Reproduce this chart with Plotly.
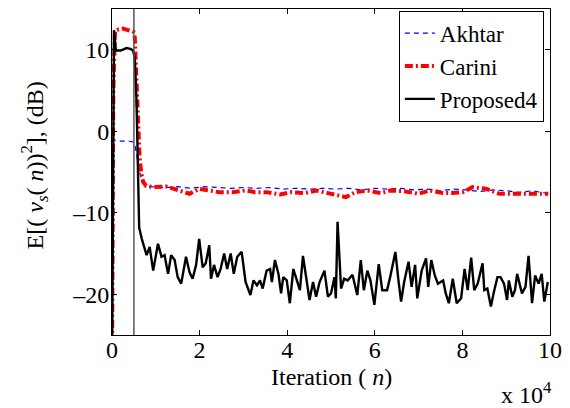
import plotly.graph_objects as go

# Iteration indices and mean-square error (dB) for each algorithm
akhtar_n = [0, 300, 700, 2000, 3500, 4800, 5200, 5600, 6300, 7000, 8000,
            9000, 12000, 15000, 18000, 21000, 24000, 27000, 30000, 33000, 36000,
            39000, 42000, 45000, 48000, 51000, 54000, 57000, 60000, 63000, 66000,
            69000, 72000, 75000, 78000, 81000, 84000, 87000, 90000, 93000, 96000,
            99000, 100000]
akhtar_db = [-30, -1.0, -1.1, -1.2, -1.2, -1.3, -1.6, -3.0, -5.0, -6.3, -6.7,
             -6.8, -6.9, -6.8, -7.0, -6.8, -6.9, -7.0, -6.9, -7.0, -6.9,
             -7.1, -7.0, -7.1, -7.0, -7.1, -7.0, -7.2, -7.0, -7.1, -7.0,
             -7.2, -7.1, -7.3, -7.1, -7.2, -7.4, -7.2, -7.3, -7.5, -7.3,
             -7.6, -7.5]

carini_n = [0, 300, 700, 1500, 2500, 3500, 4500, 4900, 5200, 5600, 5950, 6300,
            6700, 7100, 7800, 9400, 12400, 15400, 17700, 19900, 21400, 24400,
            27400, 30500, 32700, 35300, 38400, 41000, 44000, 46600, 49300, 53400,
            55600, 58300, 61300, 63500, 66600, 69900, 72600, 75600, 77500, 80100,
            82300, 85400, 88400, 91400, 94400, 97000, 99600]
carini_db = [-30, 5.0, 12.3, 12.5, 12.6, 12.4, 12.3, 12.2, 11.5, 5.8, -0.3, -3.2,
             -5.2, -6.2, -6.7, -6.86, -6.78, -7.27, -7.67, -7.06, -7.18, -7.47,
             -7.47, -7.27, -7.47, -7.47, -7.76, -7.47, -7.59, -7.27, -7.59, -8.08,
             -7.47, -7.27, -7.59, -7.27, -7.35, -7.67, -7.27, -7.59, -7.59, -7.47,
             -6.86, -7.06, -7.67, -7.67, -7.67, -7.76, -7.67]

proposed_n = [0, 450, 900, 2000, 3300, 4200, 4800, 5200, 5600, 5950,
              6200, 6800, 7900, 8600, 9400, 10500, 11300, 12000, 12800, 13500,
              14300, 15000, 15800, 16900, 17700, 18400, 19200, 19900, 20700, 21400,
              22200, 22600, 23300, 24100, 24800, 25600, 26300, 27100, 27800, 28600,
              29600, 30500, 31600, 32300, 33100, 33800, 34400, 35300, 36100, 36500,
              37200, 38000, 38600, 39100, 39900, 40600, 41400, 42100, 42900, 43600,
              44400, 45100, 45900, 46600, 47400, 48500, 49300, 50000, 50800, 51100,
              51500, 52300, 53000, 53800, 54900, 56000, 56800, 57500, 58300, 59000,
              59900, 60900, 61700, 62800, 63500, 64700, 65400, 66000, 66700, 67700,
              68400, 69200, 69700, 70700, 71700, 72200, 72900, 73700, 74400, 75600,
              76200, 76900, 77800, 78700, 79700, 80500, 81200, 82000, 82700, 83500,
              84600, 85000, 85700, 86500, 87200, 88000, 88700, 89500, 90200, 90600,
              91400, 92000, 92500, 93600, 94400, 95100, 95900, 96600, 97400, 98100,
              98700, 99500]
proposed_db = [-30, 12.4, 9.9, 9.9, 10.2, 10.1, 9.9, 9.0, 3.8, -4.4,
               -11.8, -13.2, -15.2, -14.2, -17.1, -13.8, -15.4, -15.2, -17.5, -15.2,
               -15.8, -17.9, -18.7, -15.4, -17.3, -18.1, -16.4, -13.2, -16.7, -16.2,
               -14.0, -18.1, -16.4, -17.9, -16.9, -15.0, -16.9, -15.0, -17.5, -15.4,
               -14.8, -18.5, -20.1, -18.3, -18.9, -18.3, -19.3, -17.1, -16.9, -18.5,
               -15.8, -17.5, -19.9, -17.9, -18.3, -21.1, -16.9, -18.1, -19.5, -15.3,
               -18.1, -20.7, -18.5, -20.3, -18.5, -17.1, -20.3, -19.9, -17.9, -20.5,
               -11.1, -19.3, -18.1, -18.3, -17.6, -20.1, -15.8, -19.5, -17.1, -18.3,
               -21.3, -16.3, -19.5, -19.5, -17.9, -14.8, -18.3, -20.9, -18.5, -16.0,
               -19.1, -16.4, -20.5, -17.1, -15.6, -19.1, -15.8, -17.7, -18.7, -18.3,
               -19.9, -21.1, -18.1, -21.1, -20.5, -16.9, -19.5, -15.5, -19.5, -18.7,
               -16.2, -19.5, -19.3, -21.5, -19.7, -17.9, -17.9, -18.7, -20.7, -18.3,
               -20.3, -19.5, -17.5, -19.9, -19.1, -15.3, -21.1, -17.7, -18.7, -17.5,
               -20.9, -18.5]

# Iteration at which the switch happens
switch_n = 5000

x_tick_vals = [0, 20000, 40000, 60000, 80000, 100000]
x_tick_text = ["0", "2", "4", "6", "8", "10"]
y_tick_vals = [-20, -10, 0, 10]
y_tick_text = ["\u201320", "\u201310", "0", "10"]

FONT = "'Liberation Serif', 'Times New Roman', Times, serif"
FS = 24

fig = go.Figure()
fig.add_trace(go.Scatter(x=akhtar_n, y=akhtar_db, mode="lines", name="Akhtar",
                         line=dict(color="#0000ff", width=1.2, dash="5px,4px")))
fig.add_trace(go.Scatter(x=carini_n, y=carini_db, mode="lines", name="Carini",
                         line=dict(color="#ff0000", width=4, dash="8px,3px,2px,3px")))
fig.add_trace(go.Scatter(x=proposed_n, y=proposed_db, mode="lines", name="Proposed4",
                         line=dict(color="#000000", width=2.4)))

fig.add_vline(x=switch_n, line=dict(color="#555555", width=1.5), layer="above")

axis_common = dict(showline=True, linecolor="black", linewidth=1, mirror="ticks",
                   ticks="inside", ticklen=5, tickcolor="black", showgrid=False,
                   zeroline=False, tickfont=dict(family=FONT, size=FS, color="black"))

fig.update_xaxes(range=[0, 100000], tickvals=x_tick_vals, ticktext=x_tick_text,
                 ticklabelstandoff=-7, **axis_common)
fig.update_yaxes(range=[-25, 15], tickvals=y_tick_vals, ticktext=y_tick_text,
                 ticklabelstandoff=-3, **axis_common)

fig.add_annotation(text="Iteration ( <i>n</i>)", xref="paper", yref="paper",
                   x=0.5, y=-0.128, xanchor="center", yanchor="middle",
                   showarrow=False, font=dict(family=FONT, size=FS, color="black"))
fig.add_annotation(text="x 10<sup>4</sup>", xref="paper", yref="paper",
                   x=1.008, y=-0.178, xanchor="right", yanchor="middle",
                   showarrow=False, font=dict(family=FONT, size=FS, color="black"))
fig.add_annotation(text="E[( <i>v</i><sub><i>s</i></sub>( <i>n</i>))<sup>2</sup>], (dB)",
                   xref="paper", yref="paper", x=-0.176, y=0.52,
                   xanchor="center", yanchor="middle", textangle=-90,
                   showarrow=False, font=dict(family=FONT, size=FS, color="black"))

fig.update_layout(
    width=570, height=408,
    margin=dict(l=112, r=15, t=8, b=73),
    paper_bgcolor="white", plot_bgcolor="white",
    showlegend=True,
    legend=dict(x=0.986, y=0.995, xanchor="right", yanchor="top",
                bgcolor="white", bordercolor="black", borderwidth=1,
                font=dict(family=FONT, size=23, color="black"),
                tracegroupgap=0, itemwidth=30),
)

fig.write_html("out.html")
